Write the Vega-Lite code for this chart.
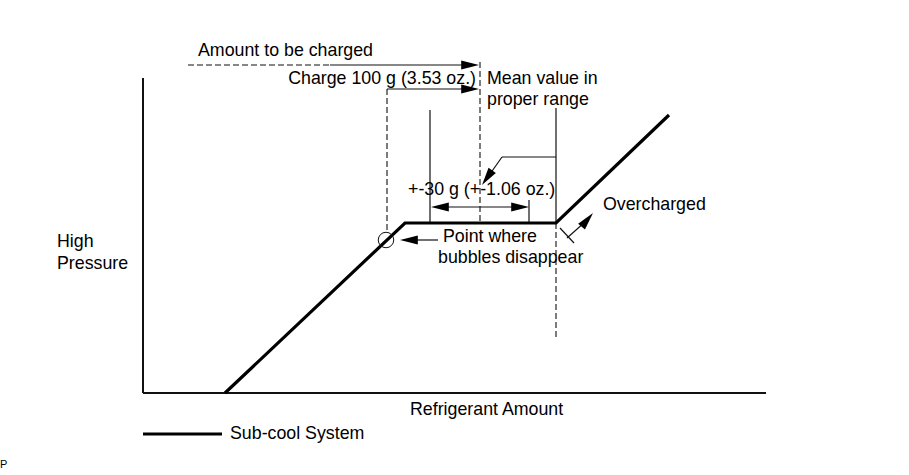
{
  "$schema": "https://vega.github.io/schema/vega-lite/v6.json",
  "width": 909,
  "height": 475,
  "autosize": {"type": "fit", "contains": "padding"},
  "padding": 0,
  "background": "white",
  "config": {"view": {"stroke": null}},
  "datasets": {
    "curve": [
      {"x": 225, "y": 393},
      {"x": 405, "y": 223},
      {"x": 556, "y": 223},
      {"x": 669, "y": 115}
    ],
    "axes": [
      {"x": 143, "y": 78, "x2": 143, "y2": 393},
      {"x": 143, "y": 393, "x2": 766, "y2": 393}
    ],
    "legendLine": [
      {"x": 143, "y": 434, "x2": 222, "y2": 434}
    ],
    "thin": [
      {"x": 430, "y": 110, "x2": 430, "y2": 223},
      {"x": 529, "y": 200, "x2": 529, "y2": 223},
      {"x": 556, "y": 108, "x2": 556, "y2": 223},
      {"x": 330, "y": 65, "x2": 466, "y2": 65},
      {"x": 387, "y": 89, "x2": 466, "y2": 89},
      {"x": 442, "y": 207, "x2": 518, "y2": 207},
      {"x": 556, "y": 157, "x2": 502, "y2": 157},
      {"x": 502, "y": 157, "x2": 490, "y2": 174},
      {"x": 438, "y": 240, "x2": 412, "y2": 240},
      {"x": 560, "y": 228, "x2": 574, "y2": 243},
      {"x": 567, "y": 238, "x2": 585, "y2": 222}
    ],
    "dashed": [
      {"x": 188, "y": 65, "x2": 330, "y2": 65},
      {"x": 387, "y": 89, "x2": 387, "y2": 232},
      {"x": 480, "y": 62, "x2": 480, "y2": 223},
      {"x": 556, "y": 223, "x2": 556, "y2": 338}
    ],
    "circle": [{"x": 386, "y": 240}],
    "heads": [
      {"x": 479, "y": 65, "angle": 90},
      {"x": 479, "y": 89, "angle": 90},
      {"x": 431, "y": 207, "angle": 270},
      {"x": 529, "y": 207, "angle": 90},
      {"x": 482, "y": 185, "angle": 215},
      {"x": 400, "y": 240, "angle": 270},
      {"x": 593, "y": 213, "angle": 40}
    ],
    "labelsLeft": [
      {"x": 198, "y": 51, "text": "Amount to be charged"},
      {"x": 487, "y": 79, "text": "Mean value in"},
      {"x": 487, "y": 100, "text": "proper range"},
      {"x": 408, "y": 190, "text": "+-30 g (+-1.06 oz.)"},
      {"x": 603, "y": 205, "text": "Overcharged"},
      {"x": 443, "y": 237, "text": "Point where"},
      {"x": 438, "y": 258, "text": "bubbles disappear"},
      {"x": 57, "y": 242, "text": "High"},
      {"x": 57, "y": 264, "text": "Pressure"},
      {"x": 410, "y": 410, "text": "Refrigerant Amount"},
      {"x": 230, "y": 434, "text": "Sub-cool System"}
    ],
    "labelsRight": [
      {"x": 476, "y": 79, "text": "Charge 100 g (3.53 oz.)"}
    ],
    "labelsSmall": [
      {"x": 0, "y": 465, "text": "P"}
    ]
  },
  "encoding": {
    "x": {"field": "x", "type": "quantitative", "scale": {"domain": [0, 909], "nice": false, "zero": false}, "axis": null},
    "y": {"field": "y", "type": "quantitative", "scale": {"domain": [0, 475], "nice": false, "zero": false, "reverse": true}, "axis": null}
  },
  "layer": [
    {
      "data": {"name": "axes"},
      "mark": {"type": "rule", "color": "#111", "strokeWidth": 2},
      "encoding": {"x2": {"field": "x2"}, "y2": {"field": "y2"}}
    },
    {
      "data": {"name": "dashed"},
      "mark": {"type": "rule", "color": "#111", "strokeWidth": 1.1, "strokeDash": [6, 3]},
      "encoding": {"x2": {"field": "x2"}, "y2": {"field": "y2"}}
    },
    {
      "data": {"name": "thin"},
      "mark": {"type": "rule", "color": "#111", "strokeWidth": 1.2},
      "encoding": {"x2": {"field": "x2"}, "y2": {"field": "y2"}}
    },
    {
      "data": {"name": "curve"},
      "mark": {"type": "line", "color": "#000", "strokeWidth": 3.2, "strokeJoin": "miter"},
      "encoding": {"order": {"field": "x", "type": "quantitative"}}
    },
    {
      "data": {"name": "legendLine"},
      "mark": {"type": "rule", "color": "#000", "strokeWidth": 3},
      "encoding": {"x2": {"field": "x2"}, "y2": {"field": "y2"}}
    },
    {
      "data": {"name": "circle"},
      "mark": {"type": "point", "shape": "circle", "size": 240, "filled": false, "color": "#111", "strokeWidth": 1, "opacity": 1}
    },
    {
      "data": {"name": "heads"},
      "mark": {"type": "point", "shape": "M0,0L0.6,2.4L-0.6,2.4Z", "size": 220, "filled": true, "color": "#000", "opacity": 1},
      "encoding": {"angle": {"field": "angle", "type": "quantitative", "scale": null}}
    },
    {
      "data": {"name": "labelsLeft"},
      "mark": {"type": "text", "align": "left", "baseline": "middle", "font": "Liberation Sans", "fontSize": 17.8, "color": "#000"},
      "encoding": {"text": {"field": "text"}}
    },
    {
      "data": {"name": "labelsRight"},
      "mark": {"type": "text", "align": "right", "baseline": "middle", "font": "Liberation Sans", "fontSize": 17.8, "color": "#000"},
      "encoding": {"text": {"field": "text"}}
    },
    {
      "data": {"name": "labelsSmall"},
      "mark": {"type": "text", "align": "left", "baseline": "middle", "font": "Liberation Sans", "fontSize": 11, "color": "#000"},
      "encoding": {"text": {"field": "text"}}
    }
  ]
}
